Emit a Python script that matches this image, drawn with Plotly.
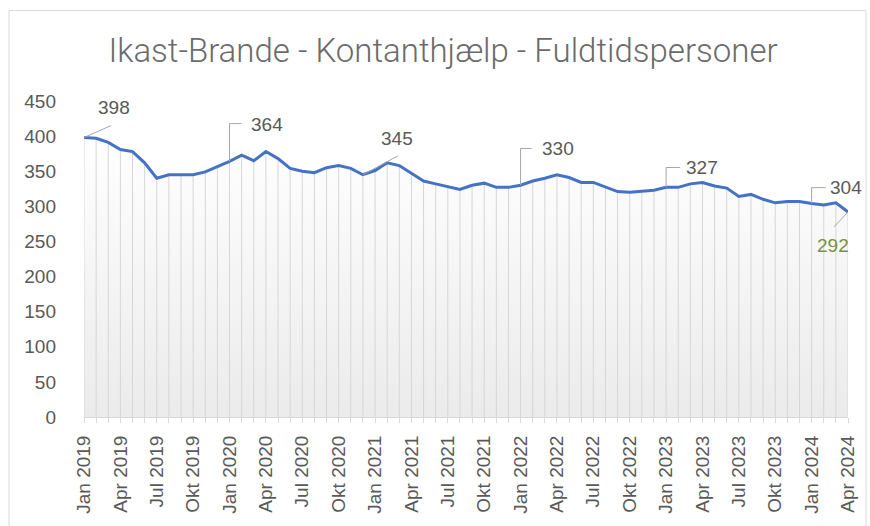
import plotly.graph_objects as go

# ---- data ----
months = ["Jan", "Feb", "Mar", "Apr", "Maj", "Jun", "Jul", "Aug", "Sep", "Okt", "Nov", "Dec"]
years = [2019, 2020, 2021, 2022, 2023, 2024]
values = [
    398, 397, 391, 381, 378, 362, 340, 345, 345, 345, 349, 356,   # 2019
    364, 373, 365, 378, 368, 354, 350, 348, 355, 358, 354, 345,   # 2020
    351, 362, 358, 347, 336, 332, 328, 324, 330, 333, 327, 327,   # 2021
    330, 336, 340, 345, 341, 334, 334, 328, 321, 320, 322, 323,   # 2022
    327, 327, 332, 334, 329, 326, 314, 317, 310, 305, 307, 307,   # 2023
    304, 302, 305, 292,                                           # 2024
]
period_labels = [f"{m} {y}" for y in years for m in months][:len(values)]
labeled_idx = [0, 12, 23, 36, 48, 60, 63]

title_text = "Ikast-Brande - Kontanthjælp - Fuldtidspersoner"

# ---- layout constants (pixels) ----
W, H = 870, 526
ML, MR, MT, MB = 84, 22, 101, 107
PW, PH = W - ML - MR, H - MT - MB
YMAX = 450
n = len(values)
px_per_x = PW / (n - 1)
px_per_y = PH / YMAX

x = list(range(n))

fig = go.Figure()

# filled area with gradient
fig.add_trace(go.Scatter(
    x=x, y=values, mode="none", fill="tozeroy",
    fillgradient=dict(type="vertical",
                      colorscale=[[0, "#ebebeb"], [1, "#ffffff"]]),
    hoverinfo="skip", showlegend=False))

# drop lines
dx, dy = [], []
for i, v in zip(x, values):
    dx += [i, i, None]
    dy += [0, v, None]
fig.add_trace(go.Scatter(x=dx, y=dy, mode="lines",
                         line=dict(color="#d6d6d6", width=1),
                         hoverinfo="skip", showlegend=False))

# main line
fig.add_trace(go.Scatter(x=x, y=values, mode="lines",
                         line=dict(color="#4472c4", width=3),
                         showlegend=False))

# leader lines (pixel offsets relative to the point) and label offsets
leaders = {
    0: ([(0, 0), (27, -12)], (30, -30), "#595959"),
    12: ([(0, 0), (0, -38), (12, -38)], (37, -37), "#595959"),
    23: ([(0, 0), (35, -19)], (34, -36), "#595959"),
    36: ([(0, 0), (0, -37), (11, -37)], (37, -37), "#595959"),
    48: ([(0, 0), (0, -20), (14, -20)], (36, -20), "#595959"),
    60: ([(0, 0), (0, -16), (14, -16)], (34, -16), "#595959"),
    63: ([(0, 0), (-14, 15)], (-15, 34), "#77933c"),
}
lx, ly = [], []
for i in labeled_idx:
    pts, toff, col = leaders[i]
    for (ox, oy) in pts:
        lx.append(i + ox / px_per_x)
        ly.append(values[i] - oy / px_per_y)
    lx.append(None)
    ly.append(None)
    fig.add_annotation(x=i, y=values[i], text=str(values[i]), showarrow=False,
                       xshift=toff[0], yshift=-toff[1],
                       font=dict(size=19, color=col, family="Liberation Sans, Arial, sans-serif"))
fig.add_trace(go.Scatter(x=lx, y=ly, mode="lines",
                         line=dict(color="#a6a6a6", width=1),
                         hoverinfo="skip", showlegend=False))

# chart border
def px2paper_x(p):
    return (p - ML) / PW

def px2paper_y(p):
    return (H - MB - p) / PH

fig.add_shape(type="rect", xref="paper", yref="paper",
              x0=px2paper_x(9), x1=px2paper_x(866),
              y0=px2paper_y(540), y1=px2paper_y(10),
              line=dict(color="#d9d9d9", width=1), layer="below")

tickvals = x
ticktext = [lab if i % 3 == 0 else "" for i, lab in enumerate(period_labels)]

fig.update_layout(
    width=W, height=H,
    margin=dict(l=ML, r=MR, t=MT, b=MB),
    paper_bgcolor="white", plot_bgcolor="white",
    title=dict(text=title_text, x=443 / W, xanchor="center", xref="container",
               y=1 - 50 / H, yanchor="middle",
               font=dict(size=33, color="#6b6b6b", weight=300,
                         family="Roboto, Liberation Sans, sans-serif")),
    xaxis=dict(range=[0, n - 1], tickmode="array", tickvals=tickvals, ticktext=ticktext,
               tickangle=-90, showgrid=False, zeroline=False,
               showline=True, linecolor="#d9d9d9", linewidth=1,
               ticks="outside", ticklen=5, tickcolor="#d9d9d9",
               ticklabelstandoff=5,
               tickfont=dict(size=19, color="#595959", family="Liberation Sans, Arial, sans-serif")),
    yaxis=dict(range=[0, YMAX], tickmode="linear", tick0=0, dtick=50,
               showgrid=False, zeroline=False, showline=False, ticks="",
               ticklabelstandoff=27,
               tickfont=dict(size=19, color="#595959", family="Liberation Sans, Arial, sans-serif")),
    showlegend=False,
)

fig.write_html("out.html", post_script="document.body.style.margin='0';",
               config={"displayModeBar": False})
